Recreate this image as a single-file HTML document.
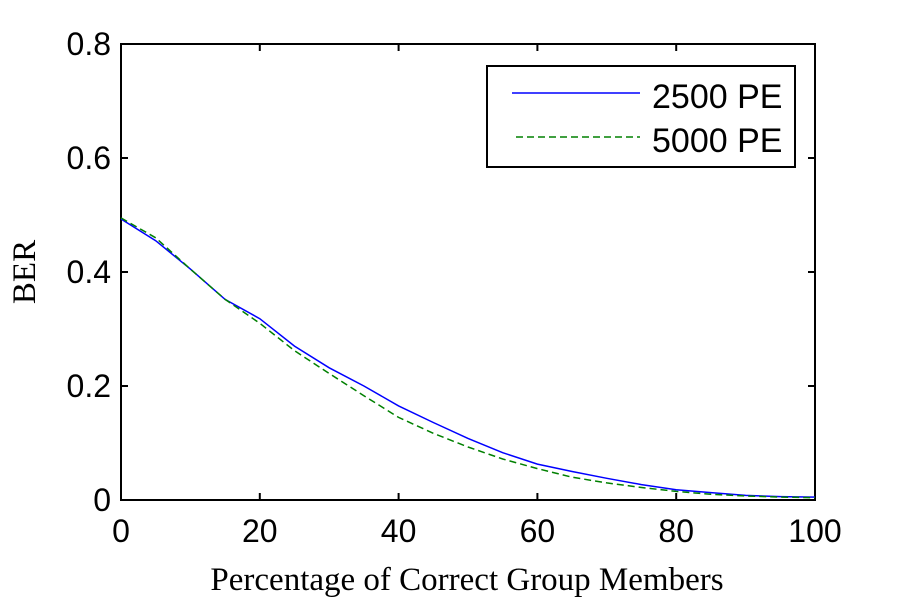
<!DOCTYPE html>
<html><head><meta charset="utf-8"><style>
html,body{margin:0;padding:0;background:#fff;}
svg{display:block;}
</style></head><body>
<svg id="chart" width="900" height="600" xmlns="http://www.w3.org/2000/svg">
<rect x="0" y="0" width="900" height="600" fill="#fff"/>
<g id="axes"></g>
<g id="series"></g>
<text x="467" y="590" font-family="Liberation Serif, serif" font-size="33" text-anchor="middle">Percentage of Correct Group Members</text>
<text transform="translate(35,272) rotate(-90)" font-family="Liberation Serif, serif" font-size="33" text-anchor="middle">BER</text>
<g>
<rect x="487" y="66" width="308" height="101" fill="#fff" stroke="#000" stroke-width="2"/>
<line x1="512" y1="93" x2="640" y2="93" stroke="#0000ff" stroke-width="1.5"/>
<text x="652" y="108" font-family="Liberation Sans, sans-serif" font-size="34">2500 PE</text>
<line x1="516" y1="137" x2="640" y2="137" stroke="#008000" stroke-width="1.5" stroke-dasharray="7,4"/>
<text x="652" y="152" font-family="Liberation Sans, sans-serif" font-size="34">5000 PE</text>
</g>
</svg>
<script>
const xValues = [0,5,10,15,20,25,30,35,40,45,50,55,60,65,70,75,80,85,90,95,100];
const ber2500 = [0.493,0.455,0.405,0.352,0.318,0.270,0.232,0.200,0.165,0.136,0.108,0.083,0.063,0.050,0.038,0.027,0.018,0.013,0.008,0.006,0.005];
const ber5000 = [0.495,0.460,0.405,0.352,0.310,0.262,0.222,0.183,0.145,0.117,0.093,0.072,0.055,0.040,0.030,0.022,0.015,0.010,0.007,0.005,0.004];
const xTicks = [0,20,40,60,80,100];
const yTicks = [0,0.2,0.4,0.6,0.8];
const yTickLabels = ["0","0.2","0.4","0.6","0.8"];

const L=121,R=815,T=44,B=500;
const sx=v=>L+(v-0)/(100-0)*(R-L);
const sy=v=>B-(v-0)/(0.8-0)*(B-T);
const NS="http://www.w3.org/2000/svg";
function mk(tag,attrs,parent){const e=document.createElementNS(NS,tag);for(const k in attrs)e.setAttribute(k,attrs[k]);parent.appendChild(e);return e;}
const axes=document.getElementById('axes');
const frame=mk('rect',{x:L,y:T,width:R-L,height:B-T,fill:'none',stroke:'#000','stroke-width':2},axes);


xTicks.forEach(t=>{
  const x=sx(t);
  const a=mk('line',{x1:x,y1:B,x2:x,y2:B-7,stroke:'#000','stroke-width':2},axes);
  
  
  const b=mk('line',{x1:x,y1:T,x2:x,y2:T+7,stroke:'#000','stroke-width':2},axes);
  
  
  const tx=mk('text',{x:x,y:B+42,'font-family':'Liberation Sans, sans-serif','font-size':32,'text-anchor':'middle'},axes);
  tx.textContent=String(t);
  
  
});
yTicks.forEach((t,i)=>{
  const y=sy(t);
  const a=mk('line',{x1:L,y1:y,x2:L+7,y2:y,stroke:'#000','stroke-width':2},axes);
  
  
  const b=mk('line',{x1:R,y1:y,x2:R-7,y2:y,stroke:'#000','stroke-width':2},axes);
  
  
  const tx=mk('text',{x:L-10,y:y+11,'font-family':'Liberation Sans, sans-serif','font-size':32,'text-anchor':'end'},axes);
  tx.textContent=yTickLabels[i];
  
  
});
const series=document.getElementById('series');
function pts(arr){return xValues.map((x,i)=>sx(x).toFixed(1)+','+sy(arr[i]).toFixed(1)).join(' ');}
const p1=mk('polyline',{points:pts(ber2500),fill:'none',stroke:'#0000ff','stroke-width':1.5},series);


const p2=mk('polyline',{points:pts(ber5000),fill:'none',stroke:'#008000','stroke-width':1.5,'stroke-dasharray':'7,4'},series);


</script>
</body></html>
